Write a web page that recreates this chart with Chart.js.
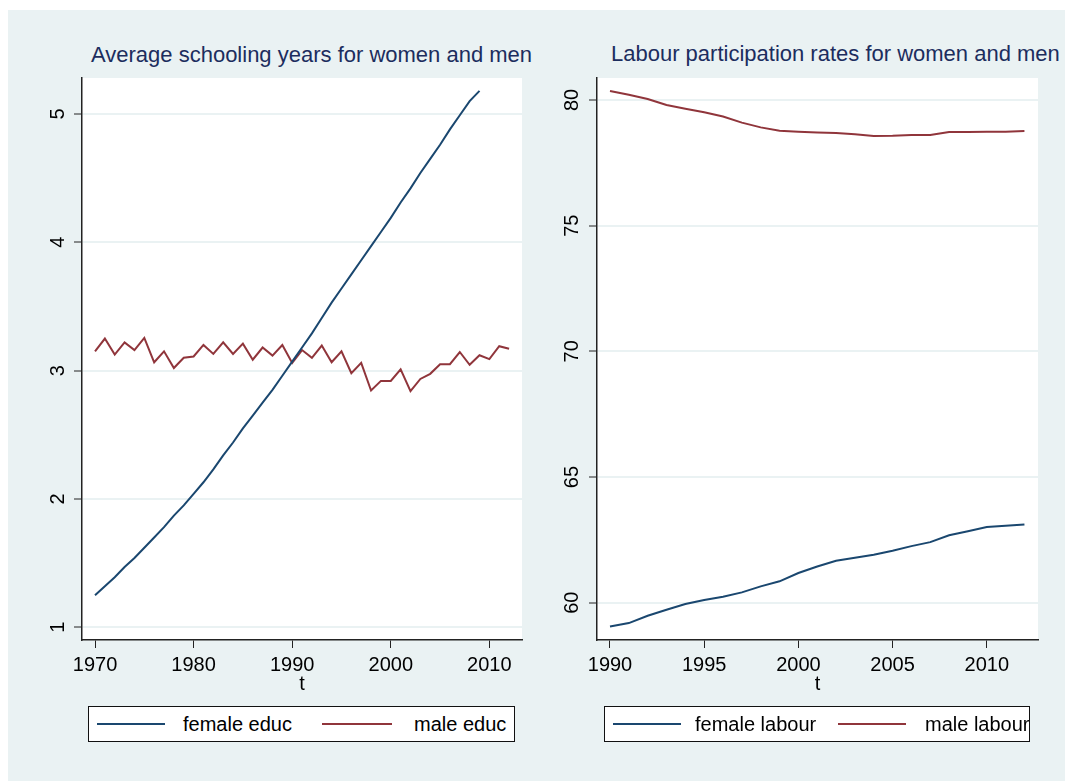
<!DOCTYPE html>
<html>
<head>
<meta charset="utf-8">
<script src="https://cdn.jsdelivr.net/npm/chart.js@4/dist/chart.umd.min.js"></script>
<style>
  body { margin: 0; background: #fff; font-family: "Liberation Sans", Arial, sans-serif; }
  #page { position: absolute; left: 8px; top: 10px; width: 1057px; height: 771px; background: #eaf2f3; }
  canvas { position: absolute; }
  .title { position: absolute; font-size: 22px; line-height: 22px; color: #1c2d5e; white-space: nowrap; }
  .legend { position: absolute; top: 706px; height: 34px; background: #fff; border: 1px solid #111; }
  .legend .swatch { position: absolute; top: 16px; height: 2px; }
  .legend .label { position: absolute; top: 5px; font-size: 20px; line-height: 24px; color: #000; white-space: nowrap; }
</style>
</head>
<body>
<div id="page"></div>

<div class="title" style="left:91px; top:44px;">Average schooling years for women and men</div>
<div class="title" style="left:611px; top:43px;">Labour participation rates for women and men</div>

<canvas id="educChart" width="540" height="771" style="left:8px; top:10px; width:540px; height:771px;"></canvas>
<canvas id="labourChart" width="517" height="771" style="left:548px; top:10px; width:517px; height:771px;"></canvas>

<div class="legend" style="left:88px; width:425px;">
  <div class="swatch" style="left:8px; width:68px; background:#1a476f;"></div>
  <div class="label" style="left:94px;">female educ</div>
  <div class="swatch" style="left:233px; width:70px; background:#90353b;"></div>
  <div class="label" style="left:325px;">male educ</div>
</div>
<div class="legend" style="left:604px; width:424px;">
  <div class="swatch" style="left:8px; width:68px; background:#1a476f;"></div>
  <div class="label" style="left:90px;">female labour</div>
  <div class="swatch" style="left:233px; width:68px; background:#90353b;"></div>
  <div class="label" style="left:320px;">male labour</div>
</div>

<script>
// ---- schooling data ----
const educYearsFemale = [1970,1971,1972,1973,1974,1975,1976,1977,1978,1979,
                         1980,1981,1982,1983,1984,1985,1986,1987,1988,1989,
                         1990,1991,1992,1993,1994,1995,1996,1997,1998,1999,
                         2000,2001,2002,2003,2004,2005,2006,2007,2008,2009];
const femaleEduc = [1.25,1.32,1.39,1.47,1.54,1.62,1.70,1.78,1.87,1.95,
                    2.04,2.13,2.23,2.34,2.44,2.55,2.65,2.75,2.85,2.96,
                    3.07,3.18,3.29,3.41,3.53,3.64,3.75,3.86,3.97,4.08,
                    4.19,4.31,4.42,4.54,4.65,4.76,4.88,4.99,5.10,5.18];

const educYearsMale = [1970,1971,1972,1973,1974,1975,1976,1977,1978,1979,
                       1980,1981,1982,1983,1984,1985,1986,1987,1988,1989,
                       1990,1991,1992,1993,1994,1995,1996,1997,1998,1999,
                       2000,2001,2002,2003,2004,2005,2006,2007,2008,2009,
                       2010,2011,2012];
const maleEduc = [3.15,3.25,3.125,3.22,3.16,3.255,3.065,3.15,3.02,3.10,
                  3.11,3.20,3.13,3.22,3.13,3.21,3.085,3.18,3.117,3.20,
                  3.06,3.16,3.10,3.195,3.065,3.15,2.98,3.06,2.845,2.92,
                  2.92,3.01,2.84,2.935,2.975,3.05,3.05,3.145,3.045,3.12,
                  3.09,3.19,3.17];

const educXTicks = [1970,1980,1990,2000,2010];
const educYTicks = [1,2,3,4,5];

// ---- labour data ----
const labourYears = [1990,1991,1992,1993,1994,1995,1996,1997,1998,1999,
                     2000,2001,2002,2003,2004,2005,2006,2007,2008,2009,
                     2010,2011,2012];
const femaleLabour = [59.05,59.19,59.48,59.72,59.95,60.11,60.24,60.41,60.65,60.85,
                      61.18,61.44,61.67,61.79,61.91,62.07,62.25,62.41,62.68,62.84,
                      63.01,63.06,63.11];
const maleLabour = [80.36,80.21,80.04,79.80,79.65,79.51,79.34,79.10,78.91,78.78,
                    78.74,78.71,78.69,78.64,78.57,78.58,78.61,78.61,78.73,78.73,
                    78.74,78.74,78.77];

const labourXTicks = [1990,1995,2000,2005,2010];
const labourYTicks = [60,65,70,75,80];

const NAVY = '#1a476f';
const MAROON = '#90353b';
const FONT = "'Liberation Sans', Arial, sans-serif";

function pairs(xs, ys) {
    return ys.map((y, i) => ({ x: xs[i], y: y }));
}

// white plot region behind the lines
const plotBg = {
    id: 'plotBg',
    beforeDraw(chart) {
        const a = chart.chartArea;
        const ctx = chart.ctx;
        ctx.save();
        ctx.fillStyle = '#fff';
        ctx.fillRect(a.left, a.top, a.right - a.left, a.bottom - a.top);
        ctx.restore();
    }
};

function makeChart(id, sets, xr, yr, xTicks, yTicks, yAxisWidth, yPad, rightPad) {
    return new Chart(document.getElementById(id), {
        type: 'line',
        data: { datasets: sets },
        plugins: [plotBg],
        options: {
            responsive: false,
            animation: false,
            layout: { padding: { top: 68, right: rightPad, bottom: 81, left: 0 } },
            plugins: { legend: { display: false }, tooltip: { enabled: false } },
            elements: { point: { radius: 0 }, line: { borderWidth: 2, tension: 0 } },
            scales: {
                x: {
                    type: 'linear',
                    min: xr[0], max: xr[1],
                    afterBuildTicks: s => { s.ticks = xTicks.map(v => ({ value: v })); },
                    afterFit: s => { s.height = 60; },
                    ticks: {
                        color: '#000', padding: 5,
                        font: { family: FONT, size: 20 },
                        callback: v => String(v)
                    },
                    grid: { drawOnChartArea: false, tickLength: 8, tickColor: '#222', tickWidth: 1 },
                    border: { color: '#222', width: 1.5 },
                    title: { display: true, text: 't', color: '#000', padding: 4,
                             font: { family: FONT, size: 20 } }
                },
                y: {
                    type: 'linear',
                    min: yr[0], max: yr[1],
                    afterBuildTicks: s => { s.ticks = yTicks.map(v => ({ value: v })); },
                    afterFit: s => { s.width = yAxisWidth; },
                    ticks: {
                        color: '#000', padding: yPad,
                        minRotation: 90, maxRotation: 90, crossAlign: 'center',
                        font: { family: FONT, size: 20 },
                        callback: v => String(v)
                    },
                    grid: { color: '#eaf2f3', lineWidth: 2, tickLength: 8, tickColor: '#222', tickWidth: 1 },
                    border: { color: '#222', width: 1.5 }
                }
            }
        }
    });
}

makeChart('educChart', [
    { label: 'female educ', data: pairs(educYearsFemale, femaleEduc), borderColor: NAVY },
    { label: 'male educ', data: pairs(educYearsMale, maleEduc), borderColor: MAROON }
], [1968.68, 2013.31], [0.901, 5.28], educXTicks, educYTicks, 74, 10, 26);

makeChart('labourChart', [
    { label: 'female labour', data: pairs(labourYears, femaleLabour), borderColor: NAVY },
    { label: 'male labour', data: pairs(labourYears, maleLabour), borderColor: MAROON }
], [1989.31, 2012.72], [58.516, 80.875], labourXTicks, labourYTicks, 49, 5, 27);
</script>
</body>
</html>
